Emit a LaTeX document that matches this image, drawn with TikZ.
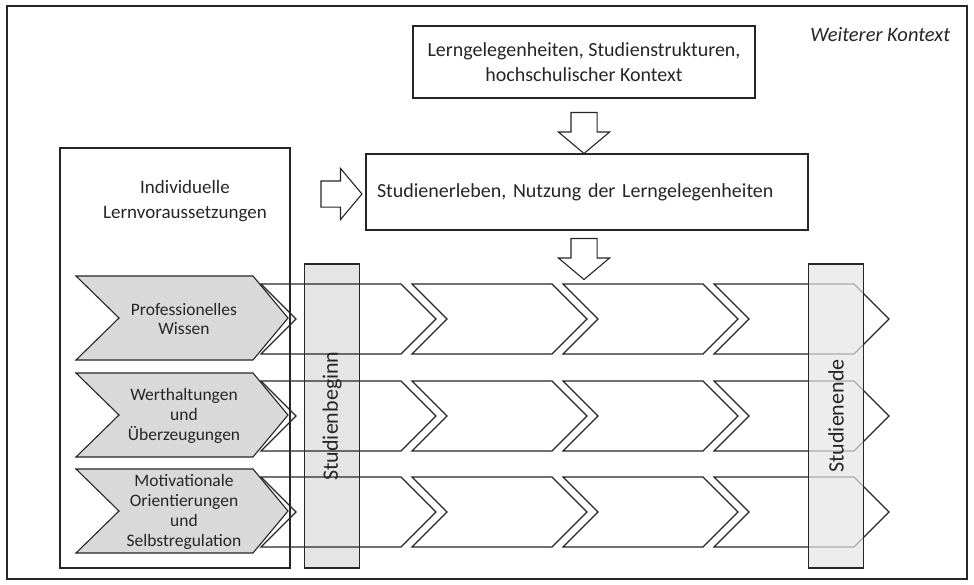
\documentclass[tikz,border=0pt]{standalone}
\usepackage{fontspec}
\setmainfont{Carlito}
\usepackage{xcolor}
\usepackage{tikz}
\usetikzlibrary{positioning,shapes.arrows}

\begin{document}
\begin{tikzpicture}[x=1pt, y=-1pt, line width=1.1pt, color=black!85,
	box/.style={draw, align=center, inner sep=0pt},
	bigtxt/.style={font=\fontsize{20}{25}\selectfont, align=center},
	smalltxt/.style={font=\fontsize{17.5}{19.8}\selectfont, align=center},
	bar/.style={draw, fill=black!10, minimum width=55pt, minimum height=304pt, inner sep=0pt},
	greychev/.style={draw, fill=black!15},
	blockarrow/.style={draw, single arrow, single arrow head extend=12.5pt, single arrow tip angle=100, minimum height=41pt, inner sep=12.5pt}]
		\useasboundingbox (0,0) rectangle (974,584);
		\draw (7,6) rectangle (967,579);
		\node[anchor=east, font=\fontsize{20.5}{22}\selectfont\itshape] (kontext) at (954,35) {Weiterer Kontext};

		\node[box, bigtxt, minimum width=342pt, minimum height=72pt] (angebot) at (584,62) {Lerngelegenheiten, Studienstrukturen,\\hochschulischer Kontext};
		\node[box, bigtxt, align=left, text width=420pt, inner xsep=11pt, minimum height=76pt] (nutzung) at (587,192) {Studienerleben, Nutzung der Lerngelegenheiten};
		\node[blockarrow, shape border rotate=270] (arrA) at (584,127.5) {};
		\node[blockarrow, shape border rotate=270] (arrB) at (584,253.5) {};
		\node[blockarrow] (arrC) at (336,194) {};

		\node[box, minimum width=230pt, minimum height=420pt] (lernvor) at (175,358) {};
		\node[bigtxt, font=\fontsize{19}{25}\selectfont] (lernvortxt) at (185,201) {Individuelle\\Lernvoraussetzungen};

		\node[bar] (beginn) at (332,416) {};

		% Merkmale links
		\foreach \yc in {318,415,511} {
			\draw[greychev] (76,\yc-42) -- (253,\yc-42) -- (288,\yc) -- (253,\yc+42) -- (76,\yc+42) -- (119,\yc) -- cycle;
		}
		\node[smalltxt] (wissen) at (184,319) {Professionelles\\Wissen};
		\node[smalltxt] (werte) at (184,416) {Werthaltungen\\und\\Überzeugungen};
		\node[smalltxt] (motiv) at (184,512) {Motivationale\\Orientierungen\\und\\Selbstregulation};

		% Entwicklung im Studium
		\foreach \yc in {319,416,512} {
			\foreach \xs in {261,412,563,714} {
				\draw (\xs,\yc-35) -- (\xs+140,\yc-35) -- (\xs+175,\yc) -- (\xs+140,\yc+35) -- (\xs,\yc+35) -- (\xs+35,\yc) -- cycle;
			}
		}

		\node[bar, fill opacity=0.7] (ende) at (836,416) {};
		\node[font=\fontsize{22}{25}\selectfont, rotate=90] at (beginn) {Studienbeginn};
		\node[font=\fontsize{22}{25}\selectfont, rotate=90] at (ende) {Studienende};
	\end{tikzpicture}
\end{document}
